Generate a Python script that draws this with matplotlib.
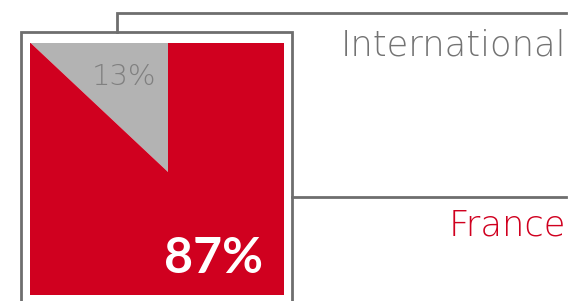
import matplotlib
matplotlib.use("Agg")
import matplotlib.pyplot as plt

# share of the total, in percent
labels = ["International", "France"]
shares = [13, 87]
colors = ["#b3b3b3", "#d0001f"]
label_colors = ["#737373", "#d0001f"]

W, H = 573, 301
LINE = "#6e6e6e"


def y(v):
    # picture rows run downward, the axes run upward
    return H - v


fig = plt.figure(figsize=(W / 100, H / 100), dpi=100)

# the square: its own axes, so the big pie gets cut to it
sq = (30, 43, 254, 252)  # left, top, width, height in pixels
pax = fig.add_axes([sq[0] / W, (H - sq[1] - sq[3]) / H, sq[2] / W, sq[3] / H])
wedges, _ = pax.pie(shares, colors=colors, startangle=90, counterclock=True,
                    center=(168 - sq[0], sq[1] + sq[3] - 172), radius=500,
                    wedgeprops=dict(linewidth=0))
for w in wedges:
    w.set_clip_on(True)  # pie turns clipping off
pax.set_xlim(0, sq[2])
pax.set_ylim(0, sq[3])
pax.set_aspect("auto")
pax.axis("off")

# overlay for lines and text
ax = fig.add_axes([0, 0, 1, 1])
ax.set_xlim(0, W)
ax.set_ylim(0, H)
ax.axis("off")

# outer frame
ax.plot([21, 21, 292, 292], [y(310), y(32), y(32), y(310)],
        color=LINE, lw=2, solid_joinstyle="miter")
# connector to "International"
ax.plot([117, 117, 566], [y(32), y(13), y(13)], color=LINE, lw=2,
        solid_joinstyle="miter")
# connector to "France"
ax.plot([292, 566], [y(197), y(197)], color=LINE, lw=2)

ax.text(566, y(56), labels[0], ha="right", va="baseline", fontsize=25.5,
        family="DejaVu Sans", weight="light", color=label_colors[0])
ax.text(566, y(235), labels[1], ha="right", va="baseline", fontsize=25.5,
        family="DejaVu Sans", weight="light", color=label_colors[1])

ax.text(156, y(85), f"{shares[0]}%", ha="right", va="baseline", fontsize=21,
        family="DejaVu Sans", weight="light", color="#808080")
ax.text(263, y(273), f"{shares[1]}%", ha="right", va="baseline", fontsize=36,
        family="Lato", weight="bold", color="white")

fig.savefig("out.png", dpi=100)
